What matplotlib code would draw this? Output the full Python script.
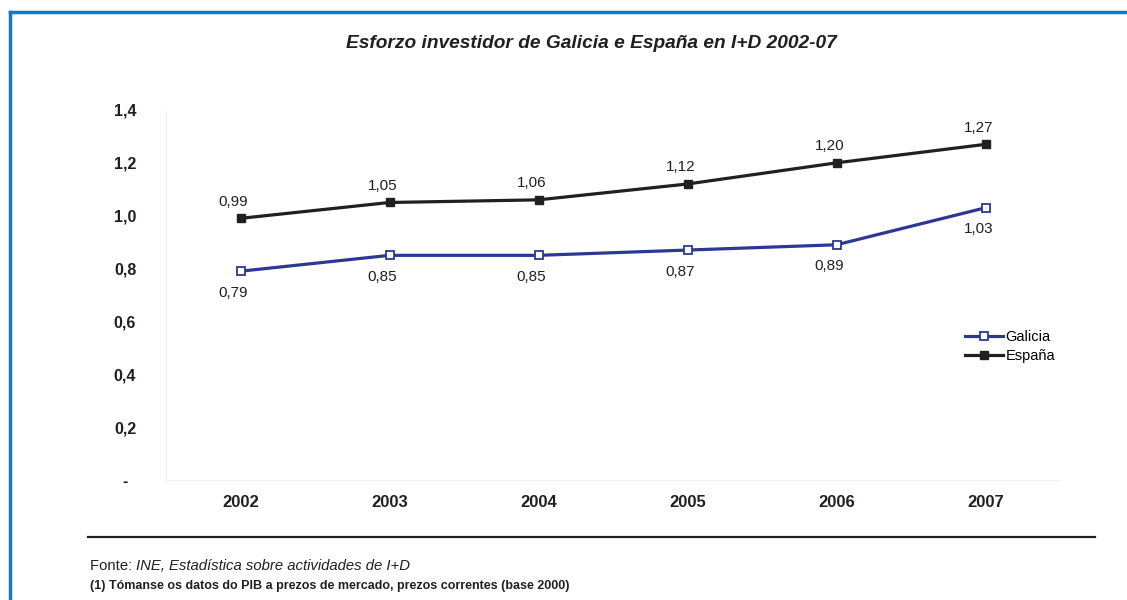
import matplotlib
matplotlib.use("Agg")
import matplotlib.pyplot as plt
from matplotlib.lines import Line2D

plt.rcParams['font.family'] = ['Liberation Sans', 'DejaVu Sans']

# Data
years = ['2002', '2003', '2004', '2005', '2006', '2007']
galicia = [0.79, 0.85, 0.85, 0.87, 0.89, 1.03]
espana = [0.99, 1.05, 1.06, 1.12, 1.20, 1.27]
yticks = [0, 0.2, 0.4, 0.6, 0.8, 1.0, 1.2, 1.4]
ytick_labels = ['-', '0,2', '0,4', '0,6', '0,8', '1,0', '1,2', '1,4']

galicia_color = '#2B3990'
espana_color = '#231F20'
frame_color = '#0A7BC8'

fig = plt.figure(figsize=(11.27, 6), dpi=100)
ax = fig.add_axes([166 / 1127, 0.2, 894 / 1127, 0.6167])

x = list(range(len(years)))
ax.plot(x, galicia, color=galicia_color, lw=2.3, marker='s', ms=6,
        mfc='white', mec=galicia_color, mew=1.3, zorder=3)
ax.plot(x, espana, color=espana_color, lw=2.3, marker='s', ms=6,
        mfc=espana_color, mec=espana_color, zorder=3)

# Value labels: Spain above, Galicia below
for xi, v in zip(x, espana):
    ax.annotate(f"{v:.2f}".replace('.', ','), (xi, v), xytext=(-5, 12),
                textcoords='offset points', ha='center', va='center',
                fontsize=11, color='#231F20')
for xi, v in zip(x, galicia):
    ax.annotate(f"{v:.2f}".replace('.', ','), (xi, v), xytext=(-5, -15.5),
                textcoords='offset points', ha='center', va='center',
                fontsize=11, color='#231F20')

ax.set_xlim(-0.5, 5.5)
ax.set_ylim(0, 1.4)
ax.set_xticks(x)
ax.set_xticklabels(years, fontsize=12, fontweight='bold', color='#231F20')
ax.set_yticks(yticks)
ax.set_yticklabels(ytick_labels, fontsize=11.5, fontweight='bold',
                   color='#231F20', ha='center')
ax.tick_params(axis='y', length=0, pad=29.5)
ax.tick_params(axis='x', length=0, pad=10.5)
for side in ['top', 'right']:
    ax.spines[side].set_visible(False)
for side in ['left', 'bottom']:
    ax.spines[side].set_color('#F0F0F0')
    ax.spines[side].set_linewidth(0.8)

handles = [
    Line2D([], [], color=galicia_color, lw=2.3, marker='s', ms=6,
           mfc='white', mec=galicia_color, mew=1.3),
    Line2D([], [], color=espana_color, lw=2.3, marker='s', ms=6,
           mfc=espana_color, mec=espana_color),
]
fig.legend(handles, ['Galicia', 'España'], loc='upper left',
           bbox_to_anchor=(958 / 1127, 1 - 323 / 600), frameon=False,
           fontsize=10.5, handlelength=2.6, handletextpad=0.15,
           labelspacing=0.3, borderpad=0)

# Title
fig.text(591 / 1127, 1 - 44 / 600, 'Esforzo investidor de Galicia e España en I+D 2002-07',
         ha='center', va='center', fontsize=13.8, fontweight='bold',
         style='italic', color='#231F20')

# Bottom rule and source notes
fig.add_artist(Line2D([88 / 1127, 1095 / 1127], [1 - 537 / 600, 1 - 537 / 600],
                      color='#231F20', lw=1.6))
t = fig.text(90 / 1127, 1 - 566 / 600, 'Fonte: ', ha='left', va='center',
             fontsize=10.7, color='#231F20')
fig.canvas.draw()
bb = t.get_window_extent()
fig.text(bb.x1 / fig.bbox.width, 1 - 566 / 600,
         'INE, Estadística sobre actividades de I+D', ha='left', va='center',
         fontsize=10.7, style='italic', color='#231F20')
fig.text(90 / 1127, 1 - 586 / 600,
         '(1) Tómanse os datos do PIB a prezos de mercado, prezos correntes (base 2000)',
         ha='left', va='center', fontsize=9, fontweight='bold', color='#231F20')

# Blue frame (top and left edges)
fig.add_artist(Line2D([10 / 1127, 1.0], [1 - 12 / 600, 1 - 12 / 600],
                      color=frame_color, lw=2.5))
fig.add_artist(Line2D([10 / 1127, 10 / 1127], [0, 1 - 12 / 600],
                      color=frame_color, lw=2.5))

fig.savefig('out.png', dpi=100)
